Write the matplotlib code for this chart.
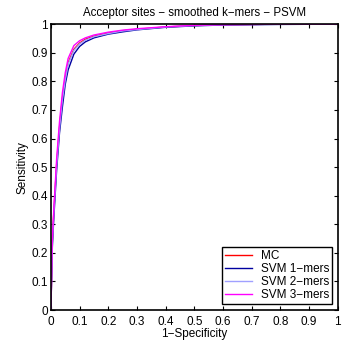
import numpy as np
import matplotlib.pyplot as plt

plt.rcParams.update({"font.size": 8.5, "font.family": "Liberation Sans"})

# ROC curves (false positive rate vs sensitivity)
fpr = [0, 0.005, 0.01, 0.02, 0.03, 0.04, 0.05, 0.06, 0.08, 0.10, 0.12, 0.15,
       0.20, 0.25, 0.30, 0.40, 0.50, 0.60, 0.80, 1.0]
tpr_mc = [0, 0.24, 0.34, 0.51, 0.64, 0.74, 0.81, 0.865, 0.912, 0.934, 0.947, 0.958,
          0.969, 0.977, 0.982, 0.990, 0.995, 0.998, 1.0, 1.0]
tpr_svm1 = [0, 0.22, 0.32, 0.49, 0.62, 0.71, 0.79, 0.84, 0.895, 0.922, 0.938, 0.952,
            0.965, 0.973, 0.980, 0.989, 0.994, 0.997, 0.999, 1.0]
tpr_svm2 = [0, 0.235, 0.335, 0.505, 0.635, 0.735, 0.805, 0.86, 0.908, 0.931, 0.944, 0.956,
            0.967, 0.976, 0.981, 0.990, 0.995, 0.998, 1.0, 1.0]
tpr_svm3 = [0, 0.25, 0.35, 0.53, 0.66, 0.76, 0.83, 0.88, 0.925, 0.942, 0.952, 0.962,
            0.972, 0.979, 0.984, 0.991, 0.996, 0.998, 1.0, 1.0]

labels = ['MC', 'SVM 1\u2212mers', 'SVM 2\u2212mers', 'SVM 3\u2212mers']
colors = ['#ff0000', '#0000a0', '#a0a0ff', '#ff00ff']

fig = plt.figure(figsize=(3.56, 3.40), dpi=100)
ax = fig.add_axes([0.143, 0.088, 0.806, 0.841])

for tpr, lab, col in zip([tpr_mc, tpr_svm1, tpr_svm2, tpr_svm3], labels, colors):
    ax.plot(fpr, tpr, color=col, linewidth=1.0, label=lab)

ax.set_xlim(0, 1)
ax.set_ylim(0, 1)
ticks = np.arange(0, 1.01, 0.1)
tick_labels = ['0'] + ['%.1f' % t for t in ticks[1:-1]] + ['1']
ax.set_xticks(ticks)
ax.set_xticklabels(tick_labels)
ax.set_yticks(ticks)
ax.set_yticklabels(tick_labels)
ax.tick_params(axis='x', direction='in', top=True, length=3, width=0.8, pad=4)
ax.tick_params(axis='y', direction='in', right=True, length=3, width=0.8, pad=2)
for s in ax.spines.values():
    s.set_linewidth(1.2)

ax.set_xlabel('1\u2212Specificity', labelpad=0)
ax.set_ylabel('Sensitivity', labelpad=2)
ax.set_title('Acceptor sites \u2212 smoothed k\u2212mers \u2212 PSVM', fontsize=8.3, pad=6)

leg = ax.legend(loc='lower right', fancybox=False, edgecolor='black', framealpha=1,
                borderpad=0.25, labelspacing=0.1, handlelength=2.3, handletextpad=0.7,
                borderaxespad=0.5)
leg.get_frame().set_linewidth(1.0)

plt.savefig('out.png', dpi=100)
